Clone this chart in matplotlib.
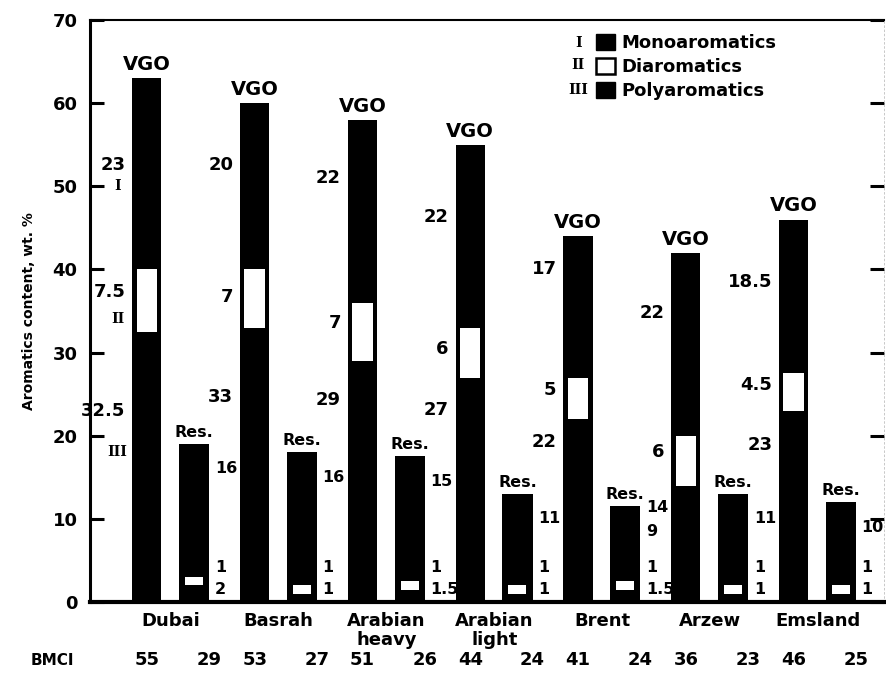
import matplotlib.pyplot as plt
from matplotlib.patches import Patch

plt.rcParams['font.family'] = ['DejaVu Sans']
plt.rcParams['font.weight'] = 'bold'
plt.rcParams['axes.labelweight'] = 'bold'

crudes = ["Dubai", "Basrah", "Arabian\nheavy", "Arabian\nlight", "Brent", "Arzew", "Emsland"]

# aromatics in vacuum gas oil (VGO), wt. %
vgo_poly = [32.5, 33, 29, 27, 22, 14, 23]
vgo_di = [7.5, 7, 7, 6, 5, 6, 4.5]
vgo_mono = [23, 20, 22, 22, 17, 22, 18.5]

# aromatics in residue, wt. %
res_poly = [2, 1, 1.5, 1, 1.5, 1, 1]
res_di = [1, 1, 1, 1, 1, 1, 1]
res_mono = [16, 16, 15, 11, 9, 11, 10]

bmci_vgo = [55, 53, 51, 44, 41, 36, 46]
bmci_res = [29, 27, 26, 24, 24, 23, 25]

# heights where the VGO value labels sit (the poly label for Arzew is not printed)
vgo_mono_label_y = [52.6, 52.6, 51, 46.3, 40, 34.8, 38.5]
vgo_di_label_y = [37.3, 36.7, 33.6, 30.4, 25.5, 18.1, 26.1]
vgo_poly_label_y = [23, 24.6, 24.3, 23.1, 19.2, None, 18.9]


def fmt(v):
    return f"{v:g}"


def draw_bars(ax):
    x = list(range(len(crudes)))
    x_vgo = [i - 0.223 for i in x]
    x_res = [i + 0.215 for i in x]
    w_vgo, w_res = 0.27, 0.28

    vgo_total = [p + d + m for p, d, m in zip(vgo_poly, vgo_di, vgo_mono)]
    res_total = [p + d + m for p, d, m in zip(res_poly, res_di, res_mono)]

    # stacked bars; the diaromatic band is shown as a white window inside the bar
    ax.bar(x_vgo, vgo_poly, width=w_vgo, color="black", zorder=3)
    ax.bar(x_vgo, vgo_di, bottom=vgo_poly, width=w_vgo, color="black", zorder=3)
    ax.bar(x_vgo, vgo_mono, bottom=[p + d for p, d in zip(vgo_poly, vgo_di)],
           width=w_vgo, color="black", zorder=3)
    ax.bar(x_vgo, vgo_di, bottom=vgo_poly, width=w_vgo * 0.7, color="white", zorder=4)

    ax.bar(x_res, res_poly, width=w_res, color="black", zorder=3)
    ax.bar(x_res, res_di, bottom=res_poly, width=w_res, color="black", zorder=3)
    ax.bar(x_res, res_mono, bottom=[p + d for p, d in zip(res_poly, res_di)],
           width=w_res, color="black", zorder=3)
    ax.bar(x_res, res_di, bottom=res_poly, width=w_res * 0.6, color="white", zorder=4)

    for i in x:
        ax.annotate("VGO", (x_vgo[i], vgo_total[i]), xytext=(0, 3), textcoords="offset points",
                    ha="center", va="bottom", fontsize=14)
        ax.annotate("Res.", (x_res[i], res_total[i]), xytext=(0, 3), textcoords="offset points",
                    ha="center", va="bottom", fontsize=11.5)

        left = x_vgo[i] - w_vgo / 2
        labels = [(vgo_mono[i], vgo_mono_label_y[i]), (vgo_di[i], vgo_di_label_y[i]),
                  (vgo_poly[i], vgo_poly_label_y[i])]
        for val, y in labels:
            if y is None:
                continue
            ax.annotate(fmt(val), (left, y), xytext=(-5, 0), textcoords="offset points",
                        ha="right", va="center", fontsize=13, zorder=2)

        right = x_res[i] + w_res / 2
        res_labels = [(res_mono[i], res_total[i] - 3), (res_di[i], 4.2), (res_poly[i], 1.5)]
        for val, y in res_labels:
            ax.annotate(fmt(val), (right, y), xytext=(4, 0), textcoords="offset points",
                        ha="left", va="center", fontsize=11.5)

    # extra figure printed beside the Brent residue bar
    ax.annotate("14", (x_res[4] + w_res / 2, 11.4), xytext=(4, 0), textcoords="offset points",
                ha="left", va="center", fontsize=11.5)

    # roman numerals next to the Dubai VGO bar
    for txt, y in zip(["I", "II", "III"], [50, 34, 18]):
        ax.text(x_vgo[0] - 0.27, y, txt, family="DejaVu Serif", fontsize=10,
                ha="center", va="center")

    # BMCI row under the crude names
    ax.text(-1.1, -0.1, "BMCI", transform=ax.get_xaxis_transform(), ha="center",
            va="center", fontsize=11, clip_on=False)
    for i in x:
        ax.text(x_vgo[i], -0.1, str(bmci_vgo[i]), transform=ax.get_xaxis_transform(),
                ha="center", va="center", fontsize=13, clip_on=False)
        ax.text(x_res[i] + 0.14, -0.1, str(bmci_res[i]), transform=ax.get_xaxis_transform(),
                ha="center", va="center", fontsize=13, clip_on=False)


def draw_axes(ax):
    ax.set_xlim(-0.75, 6.615)
    ax.set_ylim(0, 70)
    ax.set_yticks(range(0, 80, 10))
    ax.tick_params(axis="y", direction="in", length=10, width=2.2, pad=9,
                   labelsize=13, right=True)
    ax.set_xticks(range(len(crudes)))
    ax.set_xticklabels(crudes, fontsize=13, linespacing=1.1)
    ax.tick_params(axis="x", length=0, pad=7)
    ax.set_ylabel("Aromatics content, wt. %", fontsize=10, labelpad=12)

    ax.spines["left"].set_linewidth(2.2)
    ax.spines["bottom"].set_linewidth(3)
    ax.spines["top"].set_linewidth(1.5)
    ax.spines["right"].set_linewidth(0.6)
    ax.spines["right"].set_color("0.75")
    ax.spines["right"].set_linestyle((0, (2, 3)))

    handles = [Patch(facecolor="black", edgecolor="black"),
               Patch(facecolor="white", edgecolor="black", linewidth=1.8),
               Patch(facecolor="black", edgecolor="black")]
    ax.legend(handles, ["Monoaromatics", "Diaromatics", "Polyaromatics"],
              loc="upper left", bbox_to_anchor=(0.622, 0.998), frameon=False,
              prop=dict(weight="bold", size=13), handlelength=1.0, handleheight=1.0,
              handletextpad=0.4, labelspacing=0.32, borderaxespad=0.3)
    for txt, y in zip(["I", "II", "III"], [0.960, 0.922, 0.880]):
        ax.text(0.615, y, txt, transform=ax.transAxes, family="DejaVu Serif",
                fontsize=10, ha="center", va="center")


fig = plt.figure(figsize=(8.86, 6.82), dpi=100)
ax = fig.add_axes([0.1016, 0.1173, 0.8961, 0.8534])
draw_bars(ax)
draw_axes(ax)
fig.savefig("out.png", dpi=100)
